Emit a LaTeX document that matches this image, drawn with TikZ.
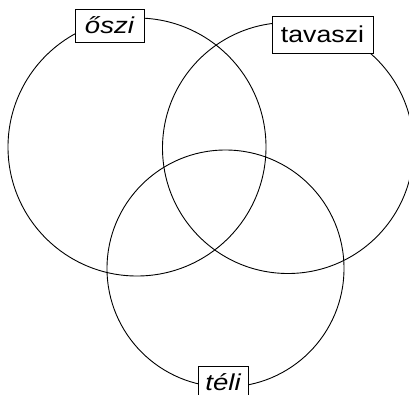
\documentclass[tikz,border=0pt]{standalone}
\usepackage{fontspec}
\setmainfont{Liberation Sans}
\begin{document}
\begin{tikzpicture}[x=1pt,y=-1pt,
  ring/.style={draw=black, line width=0.9pt},
  tag/.style={draw=black, fill=white, line width=1pt, inner sep=0pt, font=\fontsize{23}{23}\selectfont}]
\useasboundingbox (0,0) rectangle (409,394);
\clip (0,0) rectangle (409,394);
\draw[ring] (137,147) circle[radius=129];
\draw[ring] (288,148) circle[radius=125.5];
\draw[ring] (225.5,268.5) circle[radius=118.5];
\node[tag, minimum width=69pt, minimum height=33pt] (oszi) at (109.5,25.5) {\scalebox{1.2}[1]{\itshape őszi}};
\node[tag, minimum width=101pt, minimum height=37pt] (tavaszi) at (322.5,34.5) {\scalebox{1.16}[1]{tavaszi}};
\node[tag, minimum width=50pt, minimum height=36pt] (teli) at (223,384) {\raisebox{4pt}{\scalebox{1.2}[1]{\itshape téli}}};
\end{tikzpicture}
\end{document}
